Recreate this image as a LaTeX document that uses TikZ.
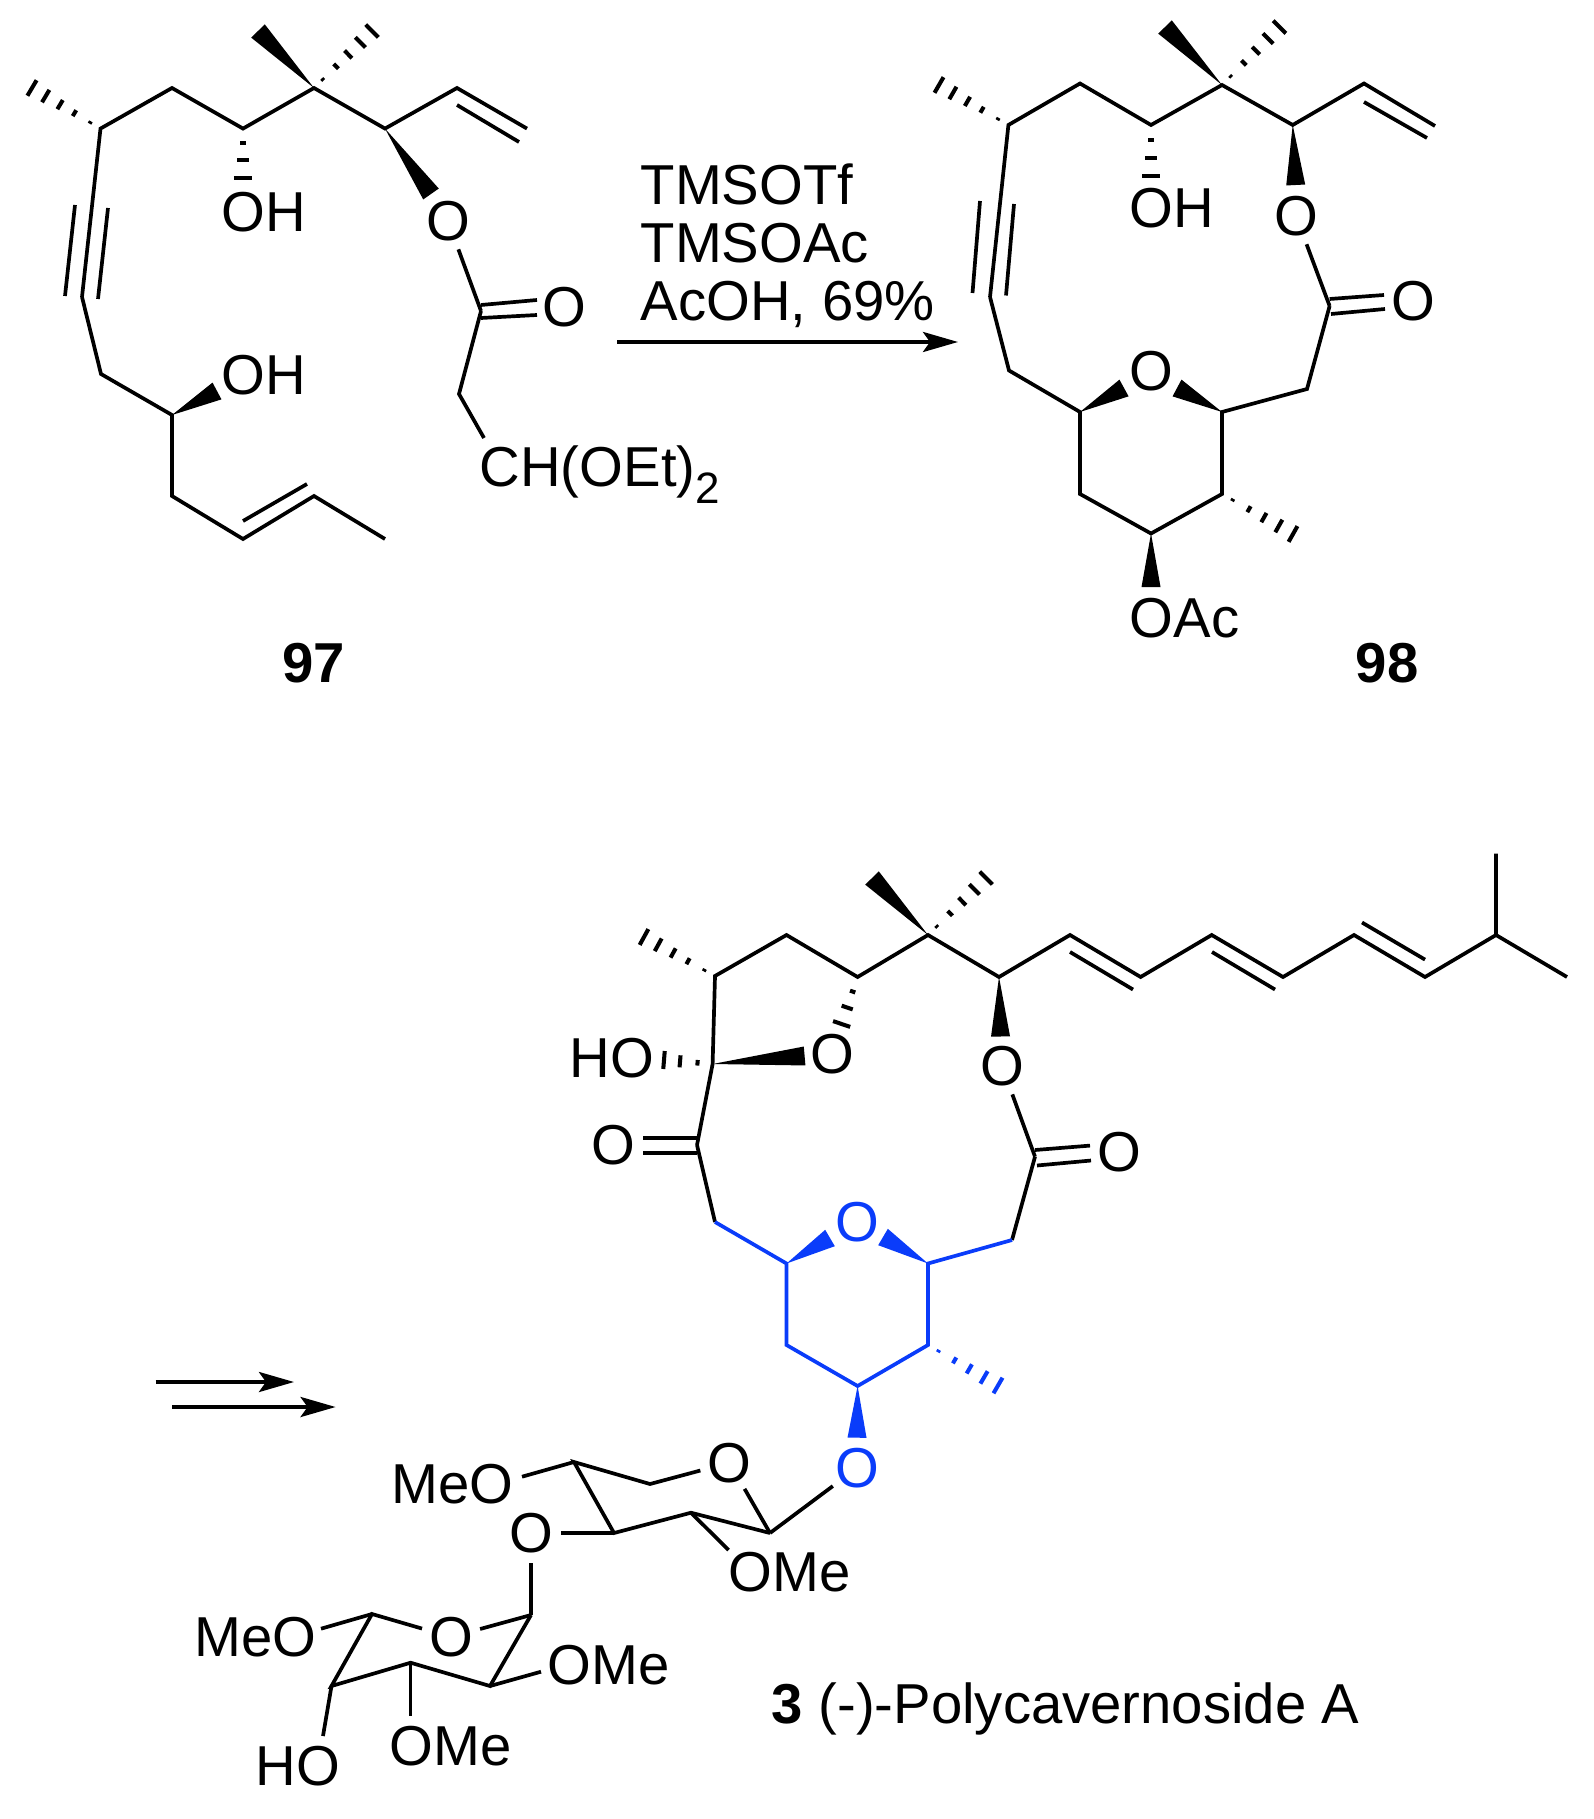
\documentclass[tikz,border=0pt]{standalone}
\usepackage{fontspec}
\setmainfont{Liberation Sans}
\usetikzlibrary{arrows.meta,calc}
\definecolor{chemblue}{RGB}{10,60,250}
\tikzset{
  bond/.style={line width=1.05pt},
  hashbar/.style={line width=1.15pt},
  rxnarrow/.style={line width=1.05pt,-{Stealth[length=0.35cm,width=0.2cm,inset=0.07cm]}},
  lab/.style={inner sep=0pt,font=\fontsize{16pt}{18pt}\selectfont},
  atomlab/.style={lab,circle},
  cmpd/.style={lab,font=\fontsize{16pt}{18pt}\selectfont\bfseries}
}
\newcommand{\wedgebond}[2]{\fill ($(#2)!0.095cm!90:(#1)$) -- (#1) -- ($(#2)!0.095cm!-90:(#1)$) -- cycle;}
\newcommand{\hashbond}[3][0.15,0.38,0.59,0.8,1]{\foreach \hpos in {#1}{
  \draw[hashbar] ($(#2)!\hpos!(#3)!{\hpos*0.09cm}!90:(#2)$) -- ($(#2)!\hpos!(#3)!{\hpos*0.09cm}!-90:(#2)$);}}
\begin{document}
\begin{tikzpicture}[x=0.01cm,y=-0.01cm]
  \useasboundingbox[fill=white] (0,0) rectangle (1593,1819);
  \foreach \n/\x/\y in {a1/100.5/128.6,a2/172/88,a3/243/128.6,a4/314/88,a5/385/128.6,a6/457/88,a7/527/128.6,a8/82/297,a9/101/374,a10/172/415,a11/172/496,a12/243/539,a13/314/496,a14/385/539,a15/481/311,a16/459/394,a17/484/438,
    am1/32/88,am2/258/31,am3/372/31,aw1/431/194,aw2/217/391,ah1/243/178,
    ad1/457/105,ad2/519/142,ad3/243/521,ad4/307/484,ad5/75/205,ad6/65/296,ad7/108/208,ad8/98/299,ad9/481/305,ad10/537/300,ad11/481/318,ad12/537/315}
    \coordinate (\n) at (\x,\y);
  \foreach \n/\x/\y in {b1/1008.4/125,b2/1080/83.5,b3/1151/125,b4/1222/85,b5/1292.7/125,b6/1364/83.5,b7/1435/126,b8/990/297,b9/1009/370.5,b10/1080/412,b11/1080/494,b12/1151/533.5,b13/1222/494,b14/1222/412,b15/1307/389,b16/1329.6/306,
    bm1/939/85,bm2/1165/27,bm3/1279.5/27,bm4/1293/534,bw1/1295.7/185,bw2/1124/388,bw3/1177/388,bw4/1151/587,bh1/1151/176,
    bd1/1364/102,bd2/1427/138,bd3/980/201,bd4/972.5/293,bd5/1014/204,bd6/1006/295.5,bd7/1329.6/299,bd8/1384/295,bd9/1331/314,bd10/1385/309}
    \coordinate (\n) at (\x,\y);
  \foreach \n/\x/\y in {c1/715/976,c2/786.5/935,c3/857.6/977,c4/928/935,c5/999/977,c6/1070/935,c7/1140.6/977,c8/1211.7/935,c9/1283/977,c10/1354/935,c11/1425/977,c12/1496/935,c13/1496/853.6,c14/1567/977,c15/712.6/1064,c16/697/1145,c17/715/1222,c18/786.5/1263.5,c19/786.5/1345,c20/857.6/1386,c21/928/1345,c22/928/1263.5,c23/1012/1240,c24/1035/1156.7,
    cm1/644/937,cm2/872/878,cm3/986/878,cm4/998/1385.5,cw1/804.6/1056,cw2/1000.5/1036.5,cw3/830/1238,cw4/883/1237,cw5/857/1437.7,ch1/841.6/1024,ch2/664/1060,
    cd1/1070/952,cd2/1133/989.5,cd3/1212/952,cd4/1275/989.5,cd5/1362/922.5,cd6/1425/959.6,cd7/643/1138,cd8/697/1138,cd9/643/1153,cd10/697/1153,cd11/1035/1150,cd12/1090/1145.6,cd13/1037/1165.5,cd14/1091/1160.5}
    \coordinate (\n) at (\x,\y);
  \foreach \n/\x/\y in {s1/770/1533,s2/691/1512.7,s3/614/1533,s4/574/1462,s5/650/1484,sm1/522/1476.7,sm2/728.5/1550,
    t1/531/1615,t2/490/1686,t3/410.6/1662.7,t4/331.5/1686,t5/372/1614,tm1/321/1628.7,tm2/541/1671.7,tm3/410.6/1715.7,tm4/323/1736,
    ar1/617/342,ar2/958/342,ar3/155.5/1382,ar4/294/1382,ar5/172/1407,ar6/335.6/1407}
    \coordinate (\n) at (\x,\y);

  \node[atomlab] (ao1) at (448,221){O};
  \node[atomlab] (ao2) at (564,307){O};
  \node[lab,anchor=west] (aoh1) at (221,212){OH};
  \node[lab,anchor=west] (aoh2) at (221,375){OH};
  \node[lab,anchor=base west] (ach) at (479,487){CH(OEt)\raisebox{-0.3em}{\fontsize{12.5pt}{13pt}\selectfont 2}};
  \hashbond{a1}{am1}
  \draw[bond] (a8)--(a1)--(a2)--(a3)--(a4)--(a5)--(a6)--(a7);
  \draw[bond] (ad1)--(ad2);
  \wedgebond{a4}{am2}
  \hashbond{a4}{am3}
  \hashbond[0.29,0.64,1]{a3}{ah1}
  \wedgebond{a5}{aw1}
  \draw[bond] (ad5)--(ad6);
  \draw[bond] (ad7)--(ad8);
  \draw[bond] (a8)--(a9)--(a10)--(a11)--(a12)--(a13)--(a14);
  \draw[bond] (ad3)--(ad4);
  \wedgebond{a10}{aw2}
  \draw[bond] (a15)--(ao1);
  \draw[bond] (ad9)--(ad10);
  \draw[bond] (ad11)--(ad12);
  \draw[bond] (a15)--(a16)--(a17);
  \node[cmpd] (n97) at (314,663){97};

  \node[lab,anchor=base west] (rg1) at (640,205){TMSOTf};
  \node[lab,anchor=base west] (rg2) at (640,262.5){TMSOAc};
  \node[lab,anchor=base west] (rg3) at (640,320.5){AcOH, 69\%};
  \draw[rxnarrow] (ar1)--(ar2);

  \node[atomlab] (bo1) at (1296,216){O};
  \node[atomlab] (bo2) at (1413,301){O};
  \node[atomlab] (bo3) at (1151,371){O};
  \node[lab,anchor=west] (boh) at (1129,208){OH};
  \node[lab,anchor=west] (boac) at (1129,618){OAc};
  \hashbond{b1}{bm1}
  \draw[bond] (b8)--(b1)--(b2)--(b3)--(b4)--(b5)--(b6)--(b7);
  \draw[bond] (bd1)--(bd2);
  \wedgebond{b4}{bm2}
  \hashbond{b4}{bm3}
  \hashbond[0.29,0.64,1]{b3}{bh1}
  \wedgebond{b5}{bw1}
  \draw[bond] (bd3)--(bd4);
  \draw[bond] (bd5)--(bd6);
  \draw[bond] (b8)--(b9)--(b10)--(b11)--(b12)--(b13)--(b14)--(b15)--(b16);
  \draw[bond] (b14)--(b13);
  \draw[bond] (b16)--(bo1);
  \draw[bond] (bd7)--(bd8);
  \draw[bond] (bd9)--(bd10);
  \wedgebond{b10}{bw2}
  \wedgebond{b14}{bw3}
  \wedgebond{b12}{bw4}
  \hashbond{b13}{bm4}
  \node[cmpd] (n98) at (1387,663){98};

  \node[atomlab] (co1) at (832,1054.5){O};
  \node[atomlab] (co2) at (613.6,1145.6){O};
  \node[atomlab] (co3) at (1002,1066){O};
  \node[atomlab] (co4) at (1119,1152){O};
  \node[lab,anchor=east] (cho) at (655,1058){HO};
  \hashbond{c1}{cm1}
  \draw[bond] (c16)--(c15)--(c1)--(c2)--(c3)--(c4)--(c5)--(c6)--(c7)--(c8)--(c9)--(c10)--(c11)--(c12)--(c13);
  \draw[bond] (c12)--(c14);
  \draw[bond] (cd1)--(cd2);
  \draw[bond] (cd3)--(cd4);
  \draw[bond] (cd5)--(cd6);
  \wedgebond{c4}{cm2}
  \hashbond{c4}{cm3}
  \hashbond[0.31,0.65,1]{c3}{ch1}
  \hashbond[0.31,0.67,1]{c15}{ch2}
  \wedgebond{c15}{cw1}
  \wedgebond{c5}{cw2}
  \draw[bond] (cd7)--(cd8);
  \draw[bond] (cd9)--(cd10);
  \draw[bond] (c16)--(c17);
  \draw[bond] (c24)--(co3);
  \draw[bond] (cd11)--(cd12);
  \draw[bond] (cd13)--(cd14);
  \draw[bond] (c24)--(c23);
  \begin{scope}[color=chemblue]
    \node[atomlab,text=chemblue] (co5) at (857,1222){O};
    \node[atomlab,text=chemblue] (co6) at (857,1468){O};
    \draw[bond] (c17)--(c18)--(c19)--(c20)--(c21)--(c22)--(c23);
    \wedgebond{c18}{cw3}
    \wedgebond{c22}{cw4}
    \wedgebond{c20}{cw5}
    \hashbond{c21}{cm4}
  \end{scope}

  \node[atomlab] (so1) at (729.5,1462.7){O};
  \node[atomlab] (so2) at (531,1533){O};
  \node[lab,anchor=east] (sme) at (514,1484){MeO};
  \node[lab,anchor=west] (some) at (728,1571.7){OMe};
  \draw[bond] (s1)--(co6);
  \draw[bond] (s1)--(so1);
  \draw[bond] (s1)--(s2)--(s3)--(s4)--(s5)--(so1);
  \draw[bond] (s4)--(sm1);
  \draw[bond] (s2)--(sm2);
  \draw[bond] (s3)--(so2);

  \node[atomlab] (to1) at (451,1637){O};
  \node[lab,anchor=east] (tme) at (317,1636.7){MeO};
  \node[lab,anchor=west] (tome1) at (547,1665){OMe};
  \node[lab,anchor=west] (tome2) at (389,1746){OMe};
  \node[lab,anchor=east] (tho) at (341,1766){HO};
  \draw[bond] (t1)--(so2);
  \draw[bond] (t1)--(to1);
  \draw[bond] (t1)--(t2)--(t3)--(t4)--(t5)--(to1);
  \draw[bond] (t5)--(tm1);
  \draw[bond] (t2)--(tm2);
  \draw[bond] (t3)--(tm3);
  \draw[bond] (t4)--(tm4);

  \draw[rxnarrow] (ar3)--(ar4);
  \draw[rxnarrow] (ar5)--(ar6);
  \node[lab,anchor=base west] (n3) at (771,1723){\textbf{3} (-)-Polycavernoside A};
\end{tikzpicture}
\end{document}
